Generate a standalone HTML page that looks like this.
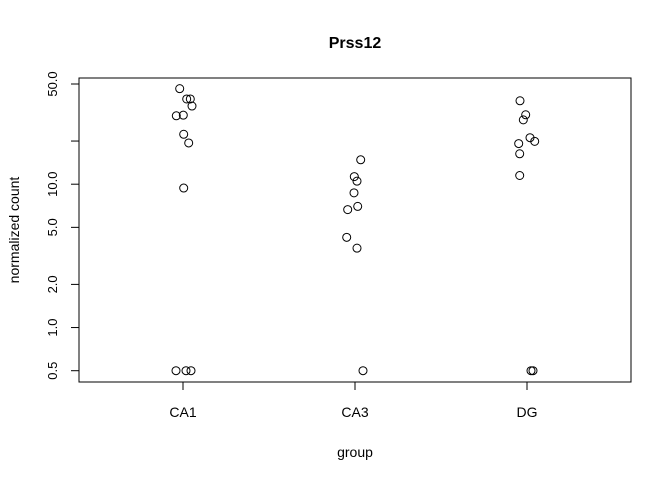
<!DOCTYPE html>
<html><head><meta charset="utf-8"><style>
body{margin:0;background:#fff}
svg{display:block;font-family:"Liberation Sans",Arial,sans-serif}
</style></head><body>
<svg id="chart" width="672" height="480">
<text x="355" y="48" text-anchor="middle" font-size="16" font-weight="bold">Prss12</text>
<rect x="79" y="78" width="552" height="304" fill="none" stroke="#000" stroke-width="1"/>
<text x="355" y="457" text-anchor="middle" font-size="14">group</text>
<text transform="translate(19,230) rotate(-90)" text-anchor="middle" font-size="14">normalized count</text>
<g id="axes"></g>
<g id="points"></g>
</svg>
<script>
const groups = ["CA1","CA3","DG"];
const ca1Values = [46.4,39.3,39.3,35.1,30.0,30.3,22.3,19.4,9.4,0.5,0.5,0.5];
const ca1Jitter = [-3.3,3.7,7.3,9,-6.7,0.3,0.7,5.7,0.7,-7,3,8];
const ca3Values = [14.8,11.3,10.5,8.7,7.0,6.65,4.26,3.58,0.5];
const ca3Jitter = [5.7,-0.7,2,-1,2.7,-7.3,-8.3,2,8];
const dgValues = [38.2,30.5,28.1,21.1,19.9,19.2,16.3,11.5,0.5,0.5];
const dgJitter = [-7,-1.3,-3.7,3,7.7,-8.3,-7.3,-7.3,4,6];
const yTicks = [0.5,1,2,5,10,20,50];
const yTickLabels = ["0.5","1.0","2.0","5.0","10.0","","50.0"];

const NS="http://www.w3.org/2000/svg";
const xPos = i => 183 + i*172;
const yPos = v => 84 + (Math.log10(50) - Math.log10(v)) * 143.35;
const axes=document.getElementById('axes'), pts=document.getElementById('points');
function mk(tag,attrs,parent){const e=document.createElementNS(NS,tag);for(const k in attrs)e.setAttribute(k,attrs[k]);parent.appendChild(e);return e;}
yTicks.forEach((v,i)=>{
  const y=yPos(v);
  const t=mk('line',{x1:71,x2:79,y1:y,y2:y,stroke:'#000'},axes);
  
  
  if(yTickLabels[i]){
    const l=mk('text',{transform:`translate(57,${y}) rotate(-90)`,'text-anchor':'middle','font-size':13},axes);
    l.textContent=yTickLabels[i];
    
    
  }
});
groups.forEach((g,i)=>{
  const x=xPos(i);
  const t=mk('line',{x1:x,x2:x,y1:382,y2:390,stroke:'#000'},axes);
  
  
  const l=mk('text',{x:x,y:417,'text-anchor':'middle','font-size':14},axes);
  l.textContent=g;
  
  
});
[[ca1Values,ca1Jitter],[ca3Values,ca3Jitter],[dgValues,dgJitter]].forEach(([vals,jit],gi)=>{
  vals.forEach((v,j)=>{
    const c=mk('circle',{cx:xPos(gi)+jit[j],cy:yPos(v),r:4,fill:'none',stroke:'#000','stroke-width':1},pts);
    
    
  });
});
</script>
</body></html>
